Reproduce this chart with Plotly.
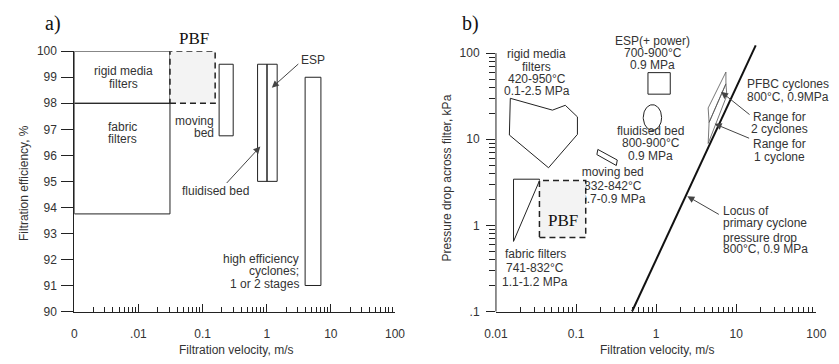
import math
import plotly.graph_objects as go

W, H = 839, 364
SANS = "Liberation Sans, Arial, sans-serif"
SERIF = "Liberation Serif, Times New Roman, serif"
TXT = "#333333"
LINE = "#222222"

# ---------------- Panel a data: filtration velocity (m/s) vs efficiency (%) ----------------
a_devices = ["rigid media filters", "fabric filters", "PBF", "moving bed",
             "fluidised bed", "ESP", "high efficiency cyclones"]
a_v_min = [0.001, 0.001, 0.031, 0.181, 0.72, 1.01, 3.97]
a_v_max = [0.031, 0.031, 0.157, 0.30, 1.01, 1.455, 7.0]
a_eff_min = [98.0, 93.75, 98.0, 96.75, 95.0, 95.0, 91.0]
a_eff_max = [100.0, 98.0, 100.0, 99.5, 99.5, 99.5, 99.0]
a_xticks = [0.001, 0.01, 0.1, 1, 10, 100]
a_xtick_text = ["0", ".01", "0.1", "1", "10", "100"]
a_yticks = [90, 91, 92, 93, 94, 95, 96, 97, 98, 99, 100]

# ---------------- Panel b data: filtration velocity (m/s) vs pressure drop (kPa) ----------------
rigid_v = [0.0151, 0.0507, 0.0734, 0.104, 0.104, 0.0453, 0.0147, 0.0151]
rigid_dp = [29.9, 21.8, 24.8, 18.2, 11.4, 4.67, 11.2, 29.9]
esp_v = [0.79, 1.5]
esp_dp = [33.4, 59.4]
fluid_v = [0.69, 1.17]
fluid_dp = [12.7, 25.2]
moving_v = [0.187, 0.327, 0.318, 0.182, 0.187]
moving_dp = [7.62, 5.74, 4.96, 6.64, 7.62]
fabric_v = [0.0349, 0.01656, 0.01656, 0.0349, 0.0349]
fabric_dp = [3.30, 0.652, 3.44, 3.44, 3.30]
pbf_b_v = [0.0349, 0.132]
pbf_b_dp = [0.723, 3.32]
pfbc2_v = [7.43, 7.43, 4.58, 4.46, 7.43]
pfbc2_dp = [60.3, 44.0, 15.7, 23.1, 60.3]
pfbc1_v = [7.43, 7.64, 4.46, 4.58, 7.43]
pfbc1_dp = [44.0, 32.3, 8.93, 15.7, 44.0]
locus_v = [0.5, 17.5]
locus_dp = [0.1, 123.0]
b_xticks = [0.01, 0.1, 1, 10, 100]
b_xtick_text = ["0.01", "0.1", "1", "10", "100"]
b_yticks = [0.1, 1, 10, 100]
b_ytick_text = [".1", "1", "10", "100"]

fig = go.Figure()


def rect(x0, x1, y0, y1):
    return [x0, x1, x1, x0, x0], [y0, y0, y1, y1, y0]


# ---- panel a marks ----
for i, name in enumerate(a_devices):
    xs, ys = rect(a_v_min[i], a_v_max[i], a_eff_min[i], a_eff_max[i])
    if name == "PBF":
        fig.add_trace(go.Scatter(x=xs, y=ys, mode="lines", fill="toself",
                                 fillcolor="#f3f3f3",
                                 line=dict(color=LINE, width=1.5, dash="6px,4px"),
                                 xaxis="x", yaxis="y", hoverinfo="skip"))
    else:
        fig.add_trace(go.Scatter(x=xs, y=ys, mode="lines",
                                 line=dict(color=LINE, width=1),
                                 xaxis="x", yaxis="y", hoverinfo="skip"))

# ---- panel b marks ----
def b_line(xs, ys, width=1, color=LINE, **kw):
    fig.add_trace(go.Scatter(x=xs, y=ys, mode="lines", line=dict(color=color, width=width),
                             xaxis="x2", yaxis="y2", hoverinfo="skip", **kw))

b_line(rigid_v, rigid_dp)
ex, ey = rect(esp_v[0], esp_v[1], esp_dp[0], esp_dp[1])
b_line(ex, ey)
# ellipse inscribed in the fluidised-bed bounding box (in log space)
lx0, lx1 = math.log10(fluid_v[0]), math.log10(fluid_v[1])
ly0, ly1 = math.log10(fluid_dp[0]), math.log10(fluid_dp[1])
cxl, cyl, rxl, ryl = (lx0 + lx1) / 2, (ly0 + ly1) / 2, (lx1 - lx0) / 2, (ly1 - ly0) / 2
ell_x = [10 ** (cxl + rxl * math.cos(2 * math.pi * k / 72)) for k in range(73)]
ell_y = [10 ** (cyl + ryl * math.sin(2 * math.pi * k / 72)) for k in range(73)]
b_line(ell_x, ell_y)
b_line(moving_v, moving_dp)
b_line(fabric_v, fabric_dp)
b_line(pfbc2_v, pfbc2_dp, width=0.8, color="#555555")
b_line(pfbc1_v, pfbc1_dp, width=0.8, color="#555555")
b_line(locus_v, locus_dp, width=2, color="#111111")

# moving-bed label drawn as data text so the PBF box can cover part of it
fig.add_trace(go.Scatter(x=[0.287, 0.287, 0.287], y=[4.01, 2.80, 1.97], mode="text",
                         text=["moving bed", "832-842°C", "0.7-0.9 MPa"],
                         textfont=dict(family=SANS, size=12, color=TXT),
                         textposition="middle center", xaxis="x2", yaxis="y2",
                         hoverinfo="skip"))
px_, py_ = rect(pbf_b_v[0], pbf_b_v[1], pbf_b_dp[0], pbf_b_dp[1])
fig.add_trace(go.Scatter(x=px_, y=py_, mode="lines", fill="toself", fillcolor="#f3f3f3",
                         line=dict(color=LINE, width=1.5, dash="6px,4px"),
                         xaxis="x2", yaxis="y2", hoverinfo="skip"))

annotations = []


def label(lines, x, y0, dy=13.0, anchor="center", size=12, family=SANS, color=TXT):
    for i, s in enumerate(lines):
        annotations.append(dict(text=s, x=x / W, y=1 - (y0 + i * dy) / H, xref="paper",
                                yref="paper", xanchor=anchor, yanchor="middle",
                                showarrow=False, font=dict(family=family, size=size, color=color)))


# panel a texts
label(["a)"], 42, 17, size=20, family=SERIF, color="#111")
label(["PBF"], 187, 33, size=17, family=SERIF, color="#111")
label(["rigid media", "filters"], 115, 67, 12.6)
label(["fabric", "filters"], 113, 125, 12.0)
label(["moving", "bed"], 209, 118.7, 12.4, anchor="right")
label(["ESP"], 295, 55, anchor="left")
label(["fluidised bed"], 209, 191.7)
label(["high efficiency", "cyclones;", "1 or 2 stages"], 297, 261.7, 13.0, anchor="right")
label(["Filtration velocity, m/s"], 230, 356.5)
annotations.append(dict(text="Filtration efficiency, %", x=13 / W, y=1 - 183.5 / H,
                        xref="paper", yref="paper", xanchor="center", yanchor="middle",
                        textangle=-90, showarrow=False, font=dict(family=SANS, size=12, color=TXT)))

# panel b texts
label(["b)"], 471, 17, size=20, family=SERIF, color="#111")
label(["rigid media", "filters", "420-950°C", "0.1-2.5 MPa"], 539, 49.3, 12.7)
label(["ESP(+ power)", "700-900°C", "0.9 MPa"], 658, 35, 12.5)
label(["fluidised bed", "800-900°C", "0.9 MPa"], 656, 128.5, 13.3)
label(["fabric filters", "741-832°C", "1.1-1.2 MPa"], 537.5, 257.3, 14.3)
label(["PBF"], 565.5, 222, size=17, family=SERIF, color="#111")
label(["PFBC cyclones", "800°C, 0.9MPa"], 753, 80, 14, anchor="left")
label(["Range for", "2 cyclones"], 788, 114, 13)
label(["Range for", "1 cyclone"], 788, 143, 13.5)
label(["Locus of", "primary cyclone"], 728, 212, 12.3, anchor="left")
label(["pressure drop", "800°C, 0.9 MPa"], 728, 240, 12.0, anchor="left")
label(["Filtration velocity, m/s"], 662, 356.5)
annotations.append(dict(text="Pressure drop across filter, kPa", x=447 / W, y=1 - 178 / H,
                        xref="paper", yref="paper", xanchor="center", yanchor="middle",
                        textangle=-90, showarrow=False, font=dict(family=SANS, size=12, color=TXT)))


def arrow(xref, yref, x, y, ax, ay, logx, logy):
    annotations.append(dict(text="", x=math.log10(x) if logx else x,
                            y=math.log10(y) if logy else y, xref=xref, yref=yref,
                            ax=ax, ay=ay, showarrow=True, arrowhead=2, arrowsize=1.4,
                            arrowwidth=1, arrowcolor="#444444"))


arrow("x", "y", 1.2, 98.6, 28, -25, True, False)       # ESP
arrow("x", "y", 0.795, 96.34, -35, 38, True, False)    # fluidised bed
arrow("x2", "y2", 6.46, 35.6, 30, 24, True, True)      # range for 2 cyclones
arrow("x2", "y2", 5.37, 15.1, 36, 15, True, True)      # range for 1 cyclone
arrow("x2", "y2", 2.45, 2.18, 33, 19, True, True)      # locus

a_minor = [k * 10 ** e for e in range(-3, 2) for k in range(2, 10)]
b_xminor = [k * 10 ** e for e in range(-2, 2) for k in range(2, 10)]
b_yminor = [k * 10 ** e for e in range(-1, 2) for k in range(2, 10)]

tickfont = dict(family=SANS, size=12, color=TXT)
ytop_b = 125.0
dec_px = (316.7 - 48.0) / 3.0
top_px_b = 48.0 - math.log10(ytop_b / 100.0) * dec_px

fig.update_layout(
    width=W, height=H, margin=dict(l=0, r=0, t=0, b=0),
    paper_bgcolor="white", plot_bgcolor="rgba(0,0,0,0)", showlegend=False,
    annotations=annotations,
    xaxis=dict(type="log", range=[-3, 2], domain=[64 / W, 393.3 / W], anchor="y",
               showline=True, linecolor=LINE, linewidth=1, showgrid=False, zeroline=False,
               ticks="inside", ticklen=8, tickcolor=LINE, tickmode="array",
               tickvals=a_xticks, ticktext=a_xtick_text, tickfont=tickfont,
               ticklabelstandoff=11,
               minor=dict(ticks="inside", ticklen=5, tickcolor=LINE, tickmode="array",
                          tickvals=a_minor, showgrid=False)),
    yaxis=dict(range=[90, 100], domain=[1 - 316.7 / H, 1 - 46 / H], anchor="x",
               showline=True, linecolor=LINE, linewidth=1, showgrid=False, zeroline=False,
               ticks="outside", ticklen=12, tickcolor=LINE, tickmode="array",
               tickvals=a_yticks, tickfont=tickfont, ticklabelstandoff=2),
    xaxis2=dict(type="log", range=[-2, 2], domain=[497 / W, 826 / W], anchor="y2",
                showline=True, linecolor=LINE, linewidth=1, showgrid=False, zeroline=False,
                ticks="inside", ticklen=8, tickcolor=LINE, tickmode="array",
                tickvals=b_xticks, ticktext=b_xtick_text, tickfont=tickfont,
                ticklabelstandoff=11,
                minor=dict(ticks="inside", ticklen=5, tickcolor=LINE, tickmode="array",
                           tickvals=b_xminor, showgrid=False)),
    yaxis2=dict(type="log", range=[-1, math.log10(ytop_b)],
                domain=[1 - 316.7 / H, 1 - top_px_b / H], anchor="x2",
                showline=False, showgrid=False, zeroline=False,
                ticks="outside", ticklen=9, tickcolor=LINE, tickmode="array",
                tickvals=b_yticks, ticktext=b_ytick_text, tickfont=tickfont,
                ticklabelstandoff=4,
                minor=dict(ticks="outside", ticklen=6, tickcolor=LINE, tickmode="array",
                           tickvals=b_yminor, showgrid=False)),
    shapes=[dict(type="line", xref="paper", yref="paper", x0=497 / W, x1=497 / W,
                 y0=1 - 316.7 / H, y1=1 - 48.0 / H, line=dict(color=LINE, width=1))],
)

fig.write_html("out.html")
